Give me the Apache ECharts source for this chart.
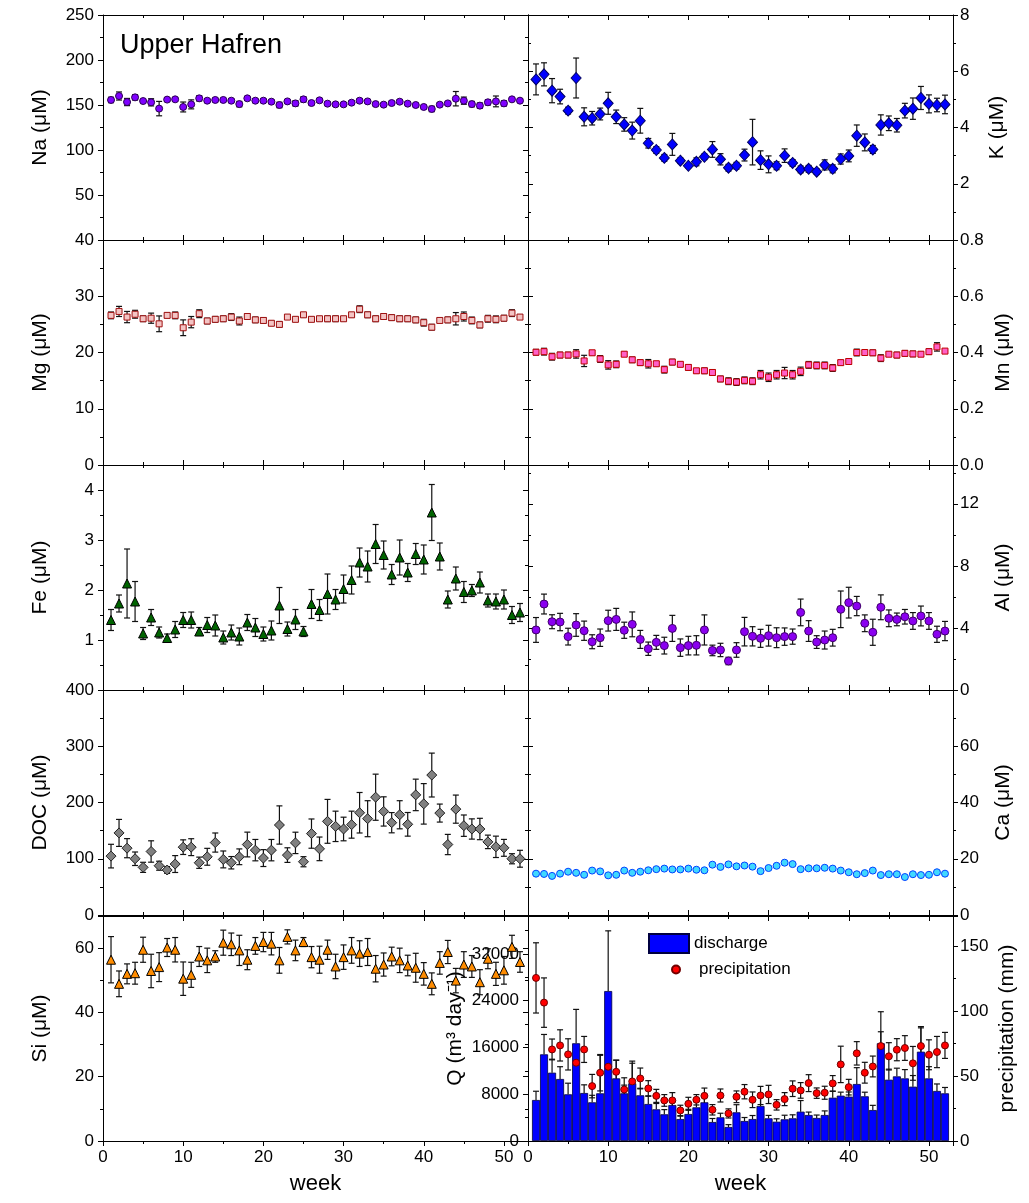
<!DOCTYPE html>
<html>
<head>
<meta charset="utf-8">
<script src="https://cdn.jsdelivr.net/npm/echarts@6/dist/echarts.min.js"></script>
<style>html,body{margin:0;padding:0;background:#fff}#main{width:1029px;height:1203px}</style>
</head>
<body>
<div id="main"></div>
<script>
// week numbers
var weeks = [1,2,3,4,5,6,7,8,9,10,11,12,13,14,15,16,17,18,19,20,21,22,23,24,25,26,27,28,29,30,31,32,33,34,35,36,37,38,39,40,41,42,43,44,45,46,47,48,49,50,51,52];

// Na (uM)
var na = [155.6,160,153.3,158.5,154.4,153,146,156,156.3,147.8,150.7,157.4,154.8,155.6,155.6,154.8,151,157.4,154.8,154.8,153.7,150,154,151.8,156.3,152.2,155.2,151.5,150.7,150.7,152.6,154.8,154,151,150.4,152.2,153.7,151.5,150,147.8,145.6,150.4,151.8,157,154.8,151,149.3,153,154,151.8,156.3,154.8];
var naErr = [3,4.5,4,3,2,4,8,2,2,5.5,5,3,2,2,2,2,3,2,2,2,2,3,2,3,3,2,2,2,2,2,2,2,2,2,2,2,2,2,2,2,3,2,2,8,4,3,3,3,6,3,2,2];
// K (uM)
var k = [5.71,5.89,5.31,5.10,4.60,5.76,4.38,4.33,4.48,4.86,4.38,4.11,3.89,4.24,3.44,3.20,2.92,3.40,2.82,2.64,2.78,2.96,3.22,2.87,2.57,2.64,3.02,3.48,2.84,2.69,2.64,3.00,2.74,2.51,2.53,2.43,2.67,2.53,2.88,2.99,3.71,3.47,3.22,4.09,4.15,4.08,4.60,4.67,5.05,4.84,4.80,4.82];
var kErr = [0.55,0.41,0.43,0.26,0.12,0.71,0.32,0.24,0.21,0.39,0.24,0.24,0.30,0.44,0.17,0.12,0.12,0.39,0.10,0.07,0.14,0.10,0.28,0.20,0.12,0.12,0.21,0.81,0.33,0.30,0.14,0.24,0.12,0.12,0.12,0.10,0.18,0.14,0.18,0.21,0.38,0.30,0.14,0.36,0.26,0.24,0.26,0.38,0.41,0.32,0.24,0.33];
// Mg (uM)
var mg = [26.6,27.3,26.3,26.8,26.0,26.1,25.1,26.6,26.6,24.4,25.4,26.9,25.6,25.9,26.0,26.3,25.6,26.4,25.8,25.7,25.2,25.0,26.3,25.9,26.7,25.9,26.0,26.0,26.0,26.0,26.7,27.7,26.7,26.0,26.4,26.2,26.0,26.0,25.8,25.3,24.5,25.7,25.8,26.0,26.4,25.7,24.9,26.0,25.9,26.1,27.0,26.3];
var mgErr = [0.6,0.9,1.0,0.7,0.5,0.9,1.4,0.4,0.6,1.4,1.0,0.7,0.5,0.5,0.5,0.6,0.7,0.5,0.5,0.5,0.4,0.5,0.4,0.4,0.4,0.4,0.4,0.5,0.5,0.4,0.4,0.6,0.5,0.5,0.5,0.5,0.5,0.5,0.5,0.6,0.5,0.4,0.5,1.1,0.8,0.6,0.5,0.6,0.6,0.5,0.6,0.4];
// Mn (uM)
var mn = [0.401,0.403,0.385,0.391,0.391,0.395,0.370,0.399,0.377,0.356,0.358,0.394,0.374,0.364,0.360,0.360,0.339,0.366,0.358,0.347,0.335,0.335,0.329,0.306,0.298,0.295,0.301,0.298,0.321,0.312,0.321,0.327,0.321,0.333,0.356,0.354,0.354,0.345,0.364,0.368,0.400,0.400,0.399,0.380,0.394,0.391,0.397,0.395,0.394,0.403,0.420,0.405];
var mnErr = [0.010,0.012,0.012,0.010,0.010,0.015,0.020,0.008,0.012,0.015,0.012,0.008,0.010,0.010,0.015,0.008,0.012,0.010,0.008,0.010,0.008,0.010,0.010,0.010,0.012,0.012,0.012,0.012,0.015,0.015,0.015,0.020,0.015,0.015,0.012,0.012,0.012,0.012,0.008,0.010,0.012,0.008,0.010,0.012,0.008,0.010,0.010,0.010,0.008,0.010,0.015,0.005];
// Fe (uM)
var fe = [1.40,1.73,2.13,1.77,1.13,1.45,1.15,1.04,1.21,1.40,1.40,1.17,1.30,1.29,1.05,1.15,1.07,1.35,1.25,1.12,1.19,1.69,1.22,1.41,1.17,1.72,1.60,1.92,1.81,2.02,2.20,2.55,2.47,2.92,2.70,2.31,2.65,2.35,2.72,2.61,3.55,2.67,1.81,2.23,1.96,1.99,2.15,1.79,1.77,1.81,1.50,1.55];
var feErr = [0.21,0.17,0.69,0.40,0.12,0.16,0.11,0.08,0.16,0.15,0.16,0.08,0.15,0.21,0.13,0.15,0.17,0.16,0.18,0.14,0.19,0.36,0.14,0.20,0.10,0.29,0.21,0.40,0.20,0.28,0.28,0.29,0.31,0.39,0.28,0.20,0.35,0.18,0.21,0.29,0.56,0.27,0.17,0.23,0.21,0.12,0.21,0.13,0.15,0.19,0.17,0.18];
// Al (uM)
var al = [3.87,5.54,4.40,4.38,3.44,4.19,3.82,3.11,3.37,4.47,4.55,3.85,4.23,3.26,2.66,3.07,2.86,3.97,2.73,2.86,2.88,3.87,2.55,2.58,1.87,2.58,3.76,3.46,3.33,3.50,3.37,3.44,3.44,5.00,3.80,3.09,3.22,3.37,5.20,5.63,5.41,4.30,3.72,5.33,4.62,4.55,4.72,4.45,4.77,4.45,3.59,3.80];
var alErr = [0.80,0.64,0.45,0.56,0.54,0.73,0.62,0.45,0.56,0.67,0.71,0.52,0.80,0.58,0.43,0.45,0.54,0.84,0.56,0.60,0.62,0.97,0.34,0.43,0.24,0.47,0.92,0.62,0.58,0.67,0.64,0.56,0.49,0.86,0.67,0.41,0.58,0.54,1.18,0.99,0.62,0.54,0.84,0.80,0.54,0.41,0.47,0.54,0.64,0.54,0.52,0.62];
// DOC (uM)
var doc = [104.7,145.9,118.8,100,84.7,112.9,87.6,80,90.6,120.6,120.6,92.9,103.5,128.8,98.8,92.9,103.5,125.3,115.3,101.2,115.3,160,106.5,128.2,94.7,144.7,117.6,166.5,157.6,152.9,160.6,181.8,171.2,209.4,184.1,164.1,178.2,161.2,213.5,197.6,248.8,181.2,125.3,188.2,158.8,152.9,152.9,130,121.2,119.4,100,100];
var docErr = [21,24,17,12,9,19,8,6,15,13,15,10,15,17,15,11,14,22,19,15,19,34,13,19,9,26,21,39,27,21,24,36,32,41,26,18,25,21,28,36,39,16,18,25,19,18,19,12,19,15,9,15];
// Ca (uM)
var ca = [14.7,14.6,13.9,14.7,15.4,15.0,14.3,15.8,15.5,14.1,14.3,15.8,15.0,15.4,15.9,16.3,16.5,16.2,16.2,16.5,16.1,15.9,17.9,17.1,18.0,17.3,17.6,17.2,15.6,16.7,17.5,18.6,18.1,16.3,16.6,16.6,16.8,16.5,15.8,15.2,14.5,14.9,15.8,14.2,14.5,14.5,13.5,14.5,14.2,14.3,15.2,14.7];
var caErr = [0.4,0.4,0.4,0.4,0.4,0.5,0.5,0.4,0.4,0.6,0.5,0.4,0.4,0.4,0.4,0.4,0.4,0.4,0.4,0.4,0.4,0.4,0.4,0.4,0.4,0.4,0.4,0.5,0.6,0.4,0.4,0.4,0.4,0.4,0.5,0.4,0.4,0.4,0.4,0.4,0.4,0.4,0.4,0.4,0.4,0.4,0.4,0.4,0.4,0.4,0.4,0.4];
// Si (uM)
var si = [56.4,48.9,52.0,52.2,59.5,52.9,54.1,60.2,59.5,50.5,51.7,57.4,56.2,57.4,61.7,61.2,59.3,56.4,60.7,61.9,61.4,56.2,63.5,59.3,61.9,57.2,56.4,59.5,54.3,57.2,59.3,58.3,58.8,53.6,54.9,57.4,56.2,54.6,53.9,52.0,48.9,55.4,58.8,49.9,54.9,54.3,49.4,56.7,52.0,53.1,60.4,55.7];
var siErr = [7.2,4.0,3.1,3.4,3.9,5.2,4.5,2.8,3.8,5.2,3.9,3.1,3.8,1.8,3.9,3.5,4.7,3.1,2.6,3.0,3.5,4.0,2.2,3.2,1.4,3.3,4.2,3.0,3.8,3.8,4.0,4.0,4.2,4.1,3.6,2.9,3.8,3.2,4.5,3.5,3.4,3.5,3.6,3.8,4.0,3.4,3.9,3.1,3.6,4.3,3.6,3.2];
// discharge Q (m3/day)
var discharge = [7015,14830,11690,10610,7990,16720,8210,6620,8160,25660,10720,8160,9870,7820,6330,5420,4570,6160,3760,4620,5760,6620,3250,4050,2400,4910,3420,3760,5990,3880,3300,3710,3880,5020,4450,3940,4450,7410,7760,7590,9750,7650,5300,16720,10490,11060,10720,9300,15280,10720,8560,8160];
var dischargeErr = [1500,3400,2300,2100,1900,5800,1400,1200,6500,10300,3100,1400,3800,1200,1400,1000,800,900,500,800,1000,1300,600,700,400,1300,600,600,1600,500,500,700,600,1900,500,500,700,1100,600,800,2800,700,800,5400,1800,1400,1500,1900,4300,2000,1200,1000];
// precipitation (mm)
var precip = [125.4,106.4,70.4,73.5,66.6,60.2,70.4,42.2,52.5,57.1,53.2,39.6,45.8,48.1,40.4,34.7,31.2,31.2,23.5,28.6,31.7,34.7,24.0,35.0,21.2,34.0,37.9,31.7,35.0,35.8,27.8,32.2,40.2,38.9,44.5,36.8,37.1,44.3,58.9,41.4,67.4,52.5,57.3,73.0,65.1,70.2,71.5,59.7,73.0,66.3,68.4,73.5];
var precipErr = [27,19,8,12,12,10,10,9,14,9,9,9,14,8,6,5,4.5,6,4,5,4,6,4,5,3.5,4.5,5.5,6,7,7,4,5,6,6,6.5,4,5,6,14,6,9,8,8,11,10.5,8.5,9.5,13,14,11.5,12,10];

var FONT = '"Liberation Sans", Arial, Helvetica, sans-serif';
var myChart = echarts.init(document.getElementById('main'));

var rowTop = [15, 240, 465, 690, 916];
var H = 225;
var grids = [], xAxes = [], yAxes = [], series = [];

function errRender(params, api) {
    var x = api.value(0);
    var lo = api.coord([x, api.value(1)]);
    var hi = api.coord([x, api.value(2)]);
    var c = 3;
    var st = {stroke: '#111', lineWidth: 1.2};
    return {type: 'group', children: [
        {type: 'line', shape: {x1: lo[0], y1: lo[1], x2: hi[0], y2: hi[1]}, style: st},
        {type: 'line', shape: {x1: hi[0] - c, y1: hi[1], x2: hi[0] + c, y2: hi[1]}, style: st},
        {type: 'line', shape: {x1: lo[0] - c, y1: lo[1], x2: lo[0] + c, y2: lo[1]}, style: st}
    ]};
}
function upRender(params, api) {
    var x = api.value(0);
    var lo = api.coord([x, api.value(1)]);
    var hi = api.coord([x, api.value(2)]);
    var st = {stroke: '#111', lineWidth: 1.2};
    return {type: 'group', children: [
        {type: 'line', shape: {x1: lo[0], y1: lo[1], x2: hi[0], y2: hi[1]}, style: st},
        {type: 'line', shape: {x1: hi[0] - 3, y1: hi[1], x2: hi[0] + 3, y2: hi[1]}, style: st}
    ]};
}

function plain(v) { return String(v); }

function mkX(g, pos, labeled) {
    return {
        type: 'value', gridIndex: g, position: pos, min: 0, max: 53, interval: 10,
        axisLine: {show: true, onZero: false, lineStyle: {color: '#000', width: 1}},
        axisTick: {show: true, inside: !labeled, length: 5, lineStyle: {color: '#000'}},
        minorTick: {show: true, splitNumber: 2, length: 3, lineStyle: {color: '#000'}},
        splitLine: {show: false},
        axisLabel: {show: labeled, color: '#000', fontSize: 17, fontFamily: FONT, margin: 8, showMaxLabel: false},
        name: labeled ? 'week' : '', nameLocation: 'middle', nameGap: 32,
        nameTextStyle: {color: '#000', fontSize: 22, fontFamily: FONT}
    };
}
function mkY(g, pos, p, labeled) {
    return {
        type: 'value', gridIndex: g, position: pos, min: p.min, max: p.max, interval: p.interval,
        axisLine: {show: true, onZero: false, lineStyle: {color: '#000', width: 1}},
        axisTick: {show: true, inside: !labeled, length: 5, lineStyle: {color: '#000'}},
        minorTick: {show: true, splitNumber: 2, length: 3, lineStyle: {color: '#000'}},
        splitLine: {show: false},
        axisLabel: {show: labeled, color: '#000', fontSize: 17, fontFamily: FONT,
            margin: pos === 'left' ? 9 : 7,
            showMinLabel: !p.hideMin, showMaxLabel: !p.hideMax, formatter: p.fmt || plain},
        name: labeled ? p.name : '', nameLocation: 'middle', nameRotate: 90, nameGap: p.gap,
        nameTextStyle: {color: '#000', fontSize: 21, fontFamily: FONT}
    };
}
function addGrid(row, col) {
    grids.push({left: col ? 528 : 103, top: rowTop[row], width: 425, height: H});
    var g = grids.length - 1;
    xAxes.push(mkX(g, 'bottom', row === 4));
    xAxes.push(mkX(g, 'top', false));
    return g;
}
function addPoints(p, g, yIdx) {
    series.push({
        type: 'custom', xAxisIndex: 2 * g, yAxisIndex: yIdx, silent: true, z: 2,
        renderItem: errRender, encode: {x: 0, y: [1, 2]},
        data: weeks.map(function (w, i) { return [w, p.val[i] - p.err[i], p.val[i] + p.err[i]]; })
    });
    series.push({
        type: 'scatter', name: p.sname || p.name, xAxisIndex: 2 * g, yAxisIndex: yIdx, z: 3,
        symbol: p.symbol, symbolSize: p.size,
        itemStyle: {color: p.color, borderColor: p.border, borderWidth: 1, opacity: 1},
        data: weeks.map(function (w, i) { return [w, p.val[i]]; })
    });
}

var panels = [
    {row: 0, col: 0, name: 'Na (\u03bcM)', min: 0, max: 250, interval: 50, hideMin: true, gap: 52,
        val: na, err: naErr, symbol: 'circle', size: 7, color: '#7f00ff', border: '#2a0050'},
    {row: 0, col: 1, name: 'K (\u03bcM)', min: 0, max: 8, interval: 2, hideMin: true, gap: 34,
        val: k, err: kErr, symbol: 'diamond', size: [10, 11], color: '#0000ff', border: '#000060'},
    {row: 1, col: 0, name: 'Mg (\u03bcM)', min: 0, max: 40, interval: 10, gap: 52,
        val: mg, err: mgErr, symbol: 'rect', size: 6, color: '#f3c4c4', border: '#a01010'},
    {row: 1, col: 1, name: 'Mn (\u03bcM)', min: 0, max: 0.8, interval: 0.2, gap: 40,
        fmt: function (v) { return v.toFixed(1); },
        val: mn, err: mnErr, symbol: 'rect', size: 6, color: '#ff60c8', border: '#c00000'},
    {row: 2, col: 0, name: 'Fe (\u03bcM)', min: 0, max: 4.5, interval: 1, hideMin: true, hideMax: true, gap: 52,
        val: fe, err: feErr, symbol: 'triangle', size: 9, color: '#006400', border: '#000'},
    {row: 2, col: 1, name: 'Al (\u03bcM)', min: 0, max: 14.5, interval: 4, hideMax: true, gap: 40,
        val: al, err: alErr, symbol: 'circle', size: 8, color: '#8a00f0', border: '#40006a'},
    {row: 3, col: 0, name: 'DOC (\u03bcM)', min: 0, max: 400, interval: 100, gap: 52,
        val: doc, err: docErr, symbol: 'diamond', size: [10, 10], color: '#808080', border: '#202020'},
    {row: 3, col: 1, name: 'Ca (\u03bcM)', min: 0, max: 80, interval: 20, hideMax: true, gap: 40,
        val: ca, err: caErr, symbol: 'circle', size: 7, color: '#40d8ff', border: '#0040ff'},
    {row: 4, col: 0, name: 'Si (\u03bcM)', min: 0, max: 70, interval: 20, hideMax: true, gap: 52,
        val: si, err: siErr, symbol: 'triangle', size: 9, color: '#ff8c00', border: '#000'}
];

panels.forEach(function (p) {
    var g = addGrid(p.row, p.col);
    var outer = p.col ? 'right' : 'left';
    var inner = p.col ? 'left' : 'right';
    yAxes.push(mkY(g, outer, p, true));
    var yi = yAxes.length - 1;
    yAxes.push(mkY(g, inner, p, false));
    addPoints(p, g, yi);
});

// bottom-right: discharge bars + precipitation
var gq = addGrid(4, 1);
yAxes.push(mkY(gq, 'left', {name: 'Q (m\u00b3 day\u207b\u00b9)', min: 0, max: 38500, interval: 8000, hideMax: true, gap: 62}, true));
var qIdx = yAxes.length - 1;
yAxes.push(mkY(gq, 'right', {name: 'precipitation (mm)', min: 0, max: 173, interval: 50, hideMax: true, gap: 44}, true));
var pIdx = yAxes.length - 1;

series.push({
    type: 'bar', name: 'discharge', xAxisIndex: 2 * gq, yAxisIndex: qIdx, barWidth: 8, z: 2,
    itemStyle: {color: '#0000ff', borderColor: '#000040', borderWidth: 0.8},
    data: weeks.map(function (w, i) { return [w, discharge[i]]; })
});
series.push({
    type: 'custom', xAxisIndex: 2 * gq, yAxisIndex: qIdx, silent: true, z: 3,
    renderItem: upRender, encode: {x: 0, y: [1, 2]},
    data: weeks.map(function (w, i) { return [w, discharge[i], discharge[i] + dischargeErr[i]]; })
});
addPoints({name: 'precipitation', val: precip, err: precipErr, symbol: 'circle', size: 7,
    color: '#ff0000', border: '#700000'}, gq, pIdx);

var option = {
    animation: false,
    backgroundColor: '#fff',
    title: {text: 'Upper Hafren', left: 115, top: 27,
        textStyle: {fontSize: 27, fontWeight: 'normal', fontFamily: FONT, color: '#000'}},
    legend: [
        {data: ['discharge'], left: 648, top: 933, padding: 0, itemWidth: 40, itemHeight: 19, icon: 'rect',
            textStyle: {fontSize: 17, fontFamily: FONT, color: '#000'}},
        {data: ['precipitation'], left: 671, top: 961, padding: 0, itemWidth: 8, itemHeight: 8, icon: 'circle',
            textStyle: {fontSize: 17, fontFamily: FONT, color: '#000', padding: [0, 0, 0, 14]}}
    ],
    grid: grids,
    xAxis: xAxes,
    yAxis: yAxes,
    series: series
};
myChart.setOption(option);
</script>
</body>
</html>
